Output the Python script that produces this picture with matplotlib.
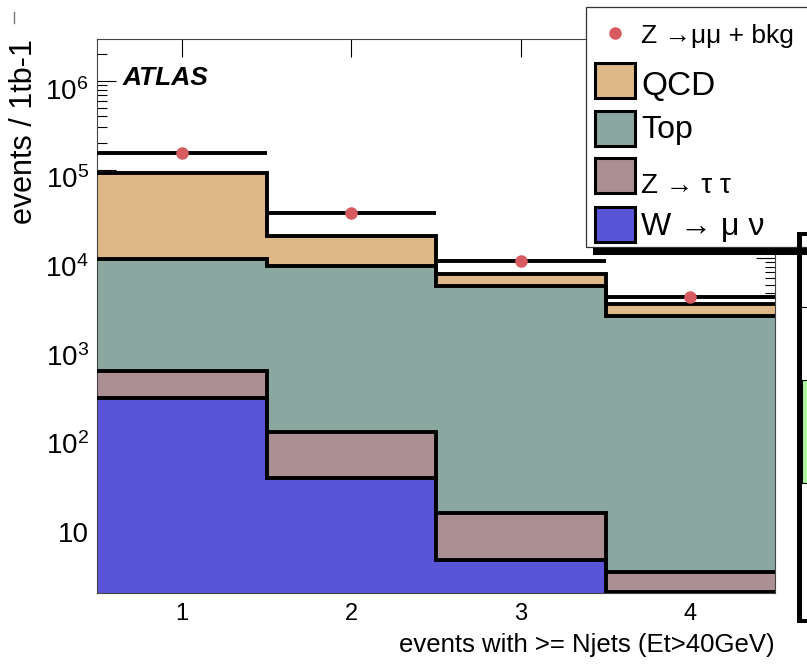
import matplotlib
matplotlib.use('Agg')
import matplotlib.pyplot as plt
import matplotlib.transforms as mtransforms
from matplotlib.patches import Rectangle
from matplotlib.lines import Line2D
from matplotlib.ticker import FixedLocator, LogLocator, FuncFormatter, NullFormatter
import numpy as np

plt.rcParams['font.family'] = ['Liberation Sans', 'DejaVu Sans']
plt.rcParams['mathtext.fontset'] = 'custom'
plt.rcParams['mathtext.rm'] = 'Liberation Sans'
plt.rcParams['mathtext.it'] = 'Liberation Sans:italic'
plt.rcParams['mathtext.bf'] = 'Liberation Sans:bold'

W, H = 807, 667

# data (events per 1 fb-1, per jet multiplicity bin)
njets = [1, 2, 3, 4]
edges = [0.5, 1.5, 2.5, 3.5, 4.5]
w_munu = [264, 33, 3.9, 1.7]
z_tautau = [270, 76, 9.4, 1.2]
top = [9270, 8060, 4840, 2230]
qcd = [81800, 9630, 1780, 810]
data = [1.54e5, 3.2e4, 9.3e3, 3.65e3]

labels = ['Z \u2192\u03bc\u03bc + bkg', 'QCD', 'Top', 'Z \u2192 \u03c4 \u03c4', 'W \u2192 \u03bc \u03bd']
colors = ['#deb887', '#8aa8a0', '#ab8f93', '#5a55d8']   # qcd, top, ztt, w
DATACOL = '#d65c61'


def fx(px):
    return px / W


def fy(py):
    return 1 - py / H


fig = plt.figure(figsize=(W / 100, H / 100), dpi=100)
ax = fig.add_axes([fx(97), fy(593), (775 - 97) / W, (593 - 39) / H])
ax.set_yscale('log')

# stack: bottom -> top = W, Ztautau, Top, QCD
stack = np.cumsum(np.array([w_munu, z_tautau, top, qcd]), axis=0)
stack_cols = colors[::-1]
for i in reversed(range(len(stack))):
    ax.stairs(stack[i], edges, baseline=1e-3, fill=True, color=stack_cols[i], lw=0, zorder=2)
    ax.stairs(stack[i], edges, baseline=None, color='black', lw=2.8, zorder=3)

ax.errorbar(njets, data, xerr=0.5, fmt='o', ms=8, mfc=DATACOL, mec=DATACOL,
            ecolor='black', elinewidth=2.8, capsize=0, zorder=5)

ax.set_xlim(0.5, 4.5)
ax.set_ylim(1.66, 2.98e6)

ax.set_xticks(njets)
ax.xaxis.set_minor_locator(FixedLocator([]))
ax.tick_params(axis='x', which='major', direction='in', top=True, bottom=True,
               length=13, width=0.8, labelsize=17, pad=7)
ax.yaxis.set_major_locator(FixedLocator([1e1, 1e2, 1e3, 1e4, 1e5, 1e6]))
ax.yaxis.set_minor_locator(LogLocator(base=10, subs=np.arange(2, 10)))
ax.yaxis.set_minor_formatter(NullFormatter())
ax.yaxis.set_major_formatter(FuncFormatter(
    lambda v, _: '10' if v == 10 else r'$10^{%d}$' % round(np.log10(v))))
ax.tick_params(axis='y', which='major', direction='in', left=True, right=True,
               length=14, width=0.8, labelsize=20, pad=6)
ax.tick_params(axis='y', which='minor', direction='in', left=True, right=True,
               length=7, width=0.8)

shift = mtransforms.ScaledTranslation(0, -8 / 100, fig.dpi_scale_trans)
for t in ax.yaxis.get_major_ticks():
    t.label1.set_transform(t.label1.get_transform() + shift)

for s in ax.spines.values():
    s.set_linewidth(0.8)
    s.set_color('#444444')

ax.set_xlabel('events with >= Njets (Et>40GeV)', loc='right', fontsize=18.5, labelpad=6)
ax.set_ylabel('events / 1tb-1', loc='top', fontsize=22)
ax.yaxis.set_label_coords(-0.086, 1.0)

fig.text(fx(123), fy(78), 'ATLAS', ha='left', va='center', fontsize=19,
         fontweight='bold', fontstyle='italic')

# legend box (ROOT style, with shadow, running off the right edge)
fig.add_artist(Rectangle((fx(593), fy(255)), fx(230), 8 / H, transform=fig.transFigure,
                         facecolor='black', edgecolor='none', zorder=10))
fig.add_artist(Rectangle((fx(586), fy(247)), fx(240), 240 / H, transform=fig.transFigure,
                         facecolor='white', edgecolor='#333333', lw=0.9, zorder=11))
fig.add_artist(Line2D([fx(615)], [fy(33)], marker='o', ms=8, color=DATACOL,
                      transform=fig.transFigure, zorder=12))
handle_top = [63, 111, 158, 207]
for col, ytop in zip(colors, handle_top):
    fig.add_artist(Rectangle((fx(595), fy(ytop + 35)), fx(40), 35 / H, transform=fig.transFigure,
                             facecolor=col, edgecolor='black', lw=2.2, zorder=12))
text_base = [43, 95, 138, 193, 235]
text_size = [19, 24, 23, 20, 23]
for lab, yb, fs in zip(labels, text_base, text_size):
    fig.text(fx(641), fy(yb), lab, ha='left', va='baseline', fontsize=fs, zorder=13)

# pieces of the neighbouring frame seen at the right edge
fig.add_artist(Rectangle((fx(797), fy(623)), fx(5), 391 / H, transform=fig.transFigure,
                         facecolor='black', edgecolor='none', zorder=14))
fig.add_artist(Rectangle((fx(797), fy(236)), fx(12), 4 / H, transform=fig.transFigure,
                         facecolor='black', edgecolor='none', zorder=14))
fig.add_artist(Rectangle((fx(797), fy(623)), fx(12), 4 / H, transform=fig.transFigure,
                         facecolor='black', edgecolor='none', zorder=14))
fig.add_artist(Rectangle((fx(802), fy(483)), fx(6), 103 / H, transform=fig.transFigure,
                         facecolor='#b0f5a0', edgecolor='black', lw=0.8, zorder=13))
fig.add_artist(Line2D([fx(802), fx(807)], [fy(307), fy(307)], color='black', lw=0.8,
                      transform=fig.transFigure, zorder=13))
fig.add_artist(Line2D([fx(14), fx(14)], [fy(12), fy(23)], color='#777777', lw=1,
                      transform=fig.transFigure))

fig.savefig('out.png', dpi=100)
